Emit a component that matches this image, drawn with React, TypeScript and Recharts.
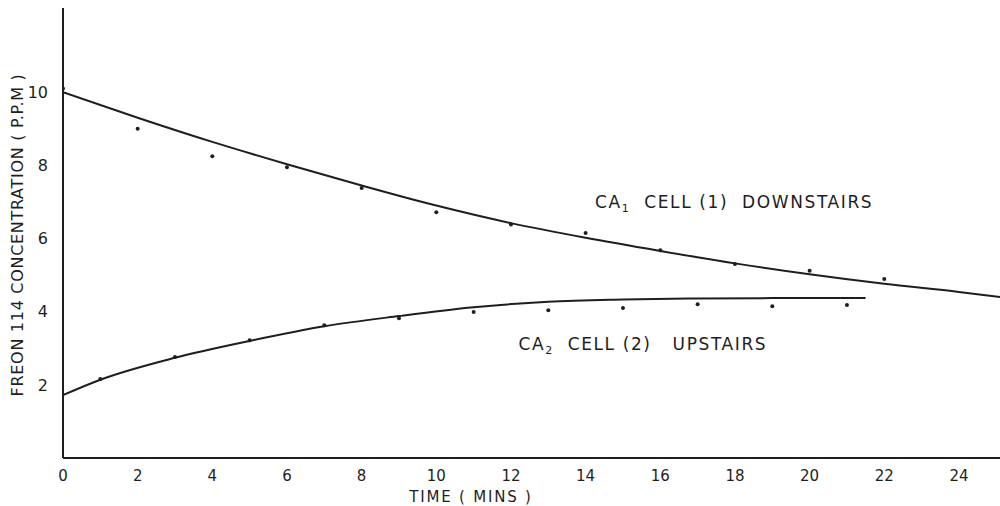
import {
  ComposedChart,
  Line,
  ReferenceDot,
  Scatter,
  XAxis,
  YAxis,
} from "recharts"

// measured points
const downTimes = [0, 2, 4, 6, 8, 10, 12, 14, 16, 18, 20, 22]
const downValues = [10.1, 9.0, 8.25, 7.95, 7.38, 6.72, 6.38, 6.15, 5.68, 5.3, 5.12, 4.89]
const upTimes = [1, 3, 5, 7, 9, 11, 13, 15, 17, 19, 21]
const upValues = [2.16, 2.76, 3.22, 3.63, 3.82, 3.99, 4.04, 4.1, 4.2, 4.15, 4.18]

// fitted curves
const downCurveTimes = [0, 2, 4, 6, 8, 10, 12, 14, 16, 18, 20, 22, 24, 25.1]
const downCurveValues = [10.0, 9.3, 8.64, 8.03, 7.45, 6.9, 6.42, 6.02, 5.66, 5.32, 5.02, 4.76, 4.54, 4.4]
const upCurveTimes = [0, 1, 3, 5, 7, 9, 11, 13, 15, 17, 19, 21.5]
const upCurveValues = [1.72, 2.14, 2.74, 3.2, 3.6, 3.88, 4.12, 4.27, 4.33, 4.36, 4.37, 4.37]

const xTicks = [0, 2, 4, 6, 8, 10, 12, 14, 16, 18, 20, 22, 24]
const yTicks = [2, 4, 6, 8, 10]

const zip = (xs: number[], ys: number[]) => xs.map((t, i) => ({ t, v: ys[i] }))

const downPoints = zip(downTimes, downValues)
const upPoints = zip(upTimes, upValues)
const downCurve = zip(downCurveTimes, downCurveValues)
const upCurve = zip(upCurveTimes, upCurveValues)

const ink = "#1e1e1e"
const font = "'DejaVu Sans', sans-serif"

function SeriesLabel(props: any, name: string, sub: string, rest: string) {
  const { cx, cy } = props
  return (
    <text
      x={cx}
      y={cy}
      fill={ink}
      fontFamily={font}
      fontSize={17}
      letterSpacing={1.6}
      textAnchor="start"
      style={{ whiteSpace: "pre" }}
    >
      {name}
      <tspan fontSize={11} dy={4}>{sub}</tspan>
      <tspan dy={-4}>{rest}</tspan>
    </text>
  )
}

const dot = (props: any) => <circle cx={props.cx} cy={props.cy} r={2} fill={ink} />

const yTitle = (props: any) => {
  const vb = props.viewBox
  const cx = 17
  const cy = vb.y + vb.height / 2 + 2
  return (
    <text
      x={cx}
      y={cy}
      transform={`rotate(-90 ${cx} ${cy})`}
      textAnchor="middle"
      dominantBaseline="central"
      fill={ink}
      fontFamily={font}
      fontSize={16}
      letterSpacing={0.7}
    >
      FREON 114 CONCENTRATION ( P.P.M )
    </text>
  )
}

const xTitle = (props: any) => {
  const vb = props.viewBox
  return (
    <text
      x={471}
      y={vb.y + 39}
      textAnchor="middle"
      dominantBaseline="central"
      fill={ink}
      fontFamily={font}
      fontSize={15}
      letterSpacing={1.8}
    >
      TIME ( MINS )
    </text>
  )
}

export default function App() {
  return (
    <div style={{ position: "absolute", left: 0, top: 0, background: "#fff" }}>
      <ComposedChart
        width={1000}
        height={506}
        margin={{ top: 8, right: 0, left: 0, bottom: 18 }}
      >
        <XAxis
          type="number"
          dataKey="t"
          domain={[0, 25.1]}
          ticks={xTicks}
          allowDataOverflow
          height={30}
          tickLine={false}
          tickMargin={6}
          axisLine={{ stroke: ink, strokeWidth: 2 }}
          tick={{ fill: ink, fontSize: 15, fontFamily: font }}
          label={{ content: xTitle }}
        />
        <YAxis
          type="number"
          dataKey="v"
          domain={[0, 12.3]}
          ticks={yTicks}
          allowDataOverflow
          width={63}
          tickLine={false}
          tickMargin={9}
          axisLine={{ stroke: ink, strokeWidth: 2 }}
          tick={{ fill: ink, fontSize: 16, fontFamily: font }}
          label={{ content: yTitle }}
        />
        <Line
          data={downCurve}
          dataKey="v"
          type="monotone"
          stroke={ink}
          strokeWidth={2}
          dot={false}
          isAnimationActive={false}
        />
        <Line
          data={upCurve}
          dataKey="v"
          type="monotone"
          stroke={ink}
          strokeWidth={2}
          dot={false}
          isAnimationActive={false}
        />
        <Scatter data={downPoints} dataKey="v" shape={dot} isAnimationActive={false} />
        <Scatter data={upPoints} dataKey="v" shape={dot} isAnimationActive={false} />
        <ReferenceDot
          x={14.25}
          y={6.82}
          r={0}
          shape={(p: any) => SeriesLabel(p, "CA", "1", "  CELL (1)  DOWNSTAIRS")}
        />
        <ReferenceDot
          x={12.2}
          y={2.95}
          r={0}
          shape={(p: any) => SeriesLabel(p, "CA", "2", "  CELL (2)   UPSTAIRS")}
        />
      </ComposedChart>
    </div>
  )
}
